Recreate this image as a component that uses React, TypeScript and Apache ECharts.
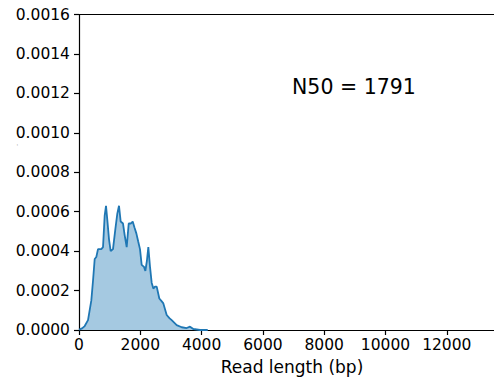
import React, { useEffect, useRef } from "react";
import * as echarts from "echarts";

const readLengths = [0, 100, 186, 294, 402, 457, 512, 565, 620, 728, 783, 838, 881, 923, 979, 1033, 1109, 1185, 1250, 1305, 1360, 1436, 1491, 1556, 1622, 1687, 1752, 1810, 1871, 1930, 1990, 2045, 2121, 2165, 2215, 2262, 2317, 2371, 2425, 2480, 2535, 2621, 2700, 2752, 2861, 2950, 3024, 3188, 3351, 3514, 3622, 3731, 3948, 4200];
const densityE4 = [0.02, 0.08, 0.2, 0.5, 1.5, 2.5, 3.6, 3.7, 4.1, 4.1, 4.2, 5.8, 6.3, 5.6, 4.6, 4.0, 4.1, 5.1, 5.9, 6.3, 5.5, 5.4, 4.8, 4.2, 5.4, 5.4, 5.5, 5.2, 4.9, 4.5, 4.1, 3.3, 3.2, 3.0, 3.5, 4.2, 3.2, 2.4, 2.1, 2.2, 2.2, 1.6, 1.45, 1.35, 0.76, 0.6, 0.5, 0.25, 0.14, 0.1, 0.17, 0.05, 0.0, 0.0];
const xTickMax = 13540;
const yTickMax = 0.0016;
const annotation = "N50 = 1791";
const xLabel = "Read length (bp)";

export default function App() {
  const ref = useRef<HTMLDivElement>(null);
  useEffect(() => {
    if (!ref.current) return;
    const chart = echarts.init(ref.current, null, { renderer: "svg" });
    const data = readLengths.map((x, i) => [x, densityE4[i] * 1e-4]);
    const font = "DejaVu Sans";
    const line = { show: true, lineStyle: { color: "#000", width: 1.2 } };
    chart.setOption({
      animation: false,
      textStyle: { fontFamily: font },
      grid: { left: 79, top: 14.5, bottom: 54, right: 0 },
      xAxis: [
        {
          type: "value", min: 0, max: xTickMax, interval: 2000,
          axisLine: line,
          axisTick: { show: true, length: 5, lineStyle: { color: "#000", width: 1.2 } },
          axisLabel: {
            fontSize: 15.5, color: "#000", margin: 7, showMaxLabel: false,
            formatter: (v: number) => (v % 2000 === 0 ? String(v) : ""),
          },
          splitLine: { show: false },
        },
        {
          type: "value", position: "top", min: 0, max: xTickMax,
          axisLine: line, axisTick: { show: false }, axisLabel: { show: false }, splitLine: { show: false },
        },
      ],
      yAxis: {
        type: "value", min: 0, max: yTickMax, interval: 0.0002,
        axisLine: line,
        axisTick: { show: true, length: 5, lineStyle: { color: "#000", width: 1.2 } },
        axisLabel: {
          fontSize: 15.5, color: "#000", margin: 9,
          formatter: (v: number) => v.toFixed(4),
        },
        splitLine: { show: false },
      },
      graphic: [
        { type: "text", left: 292, top: 76, style: { text: annotation, fontSize: 20.5, fill: "#000", fontFamily: font } },
        { type: "text", x: 292, y: 367, style: { text: xLabel, fontSize: 17, fill: "#000", fontFamily: font, textAlign: "center", textVerticalAlign: "middle" } },
        { type: "text", x: 13, y: 146, rotation: Math.PI / 2, style: { text: "-", fontSize: 6, fill: "#999", fontFamily: font } },
      ],
      series: [
        {
          type: "line", data, showSymbol: false, smooth: false, xAxisIndex: 0,
          lineStyle: { color: "#1f77b4", width: 1.8 },
          areaStyle: { color: "#a5c9e1", opacity: 1 },
          z: 2,
        },
      ],
    });
    return () => chart.dispose();
  }, []);
  return <div ref={ref} style={{ position: "absolute", left: 0, top: 0, width: 494, height: 384 }} />;
}
